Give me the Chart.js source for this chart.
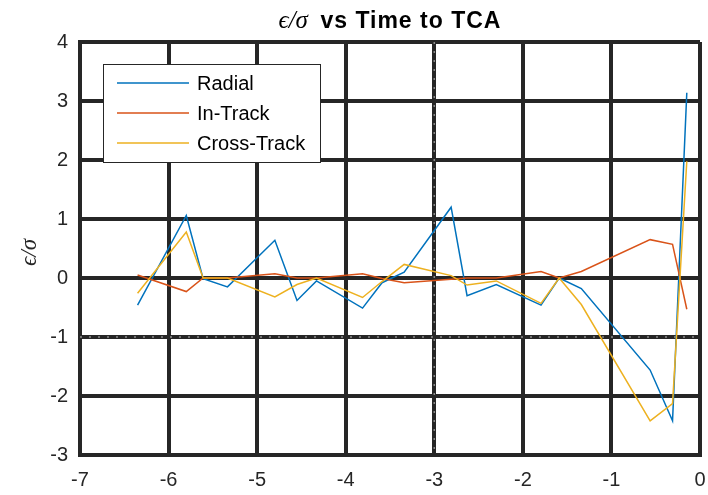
<!DOCTYPE html>
<html>
<head>
<meta charset="utf-8">
<script src="https://cdn.jsdelivr.net/npm/chart.js@4.4.1/dist/chart.umd.min.js"></script>
<style>
  html, body { margin: 0; padding: 0; background: #fff; }
  canvas { display: block; }
</style>
</head>
<body>
<canvas id="c" width="708" height="495"></canvas>
<script>
// Time to TCA (days) of each sample
const timeToTca = [-6.35, -5.80, -5.61, -5.335, -4.80, -4.55, -4.33, -3.81, -3.59, -3.34,
                   -2.81, -2.63, -2.30, -1.795, -1.59, -1.34, -0.563, -0.31, -0.149];
// Normalised error epsilon/sigma per component
const radial     = [-0.46, 1.06, -0.01, -0.15, 0.64, -0.38, -0.05, -0.51, -0.08, 0.10,
                    1.20, -0.30, -0.11, -0.46, 0.00, -0.18, -1.56, -2.42, 3.14];
const inTrack    = [0.05, -0.23, 0.00, 0.00, 0.07, 0.00, 0.00, 0.07, -0.01, -0.08,
                    -0.02, 0.00, 0.00, 0.11, 0.00, 0.11, 0.65, 0.57, -0.53];
const crossTrack = [-0.26, 0.78, 0.00, 0.00, -0.32, -0.11, 0.00, -0.33, -0.06, 0.23,
                    0.04, -0.12, -0.05, -0.43, 0.00, -0.45, -2.42, -2.13, 1.98];
const seriesNames = ['Radial', 'In-Track', 'Cross-Track'];
const xTicks = [-7, -6, -5, -4, -3, -2, -1, 0];
const yTicks = [-3, -2, -1, 0, 1, 2, 3, 4];

const colors = ['#0072BD', '#D95319', '#EDB120'];
const tickFont = { family: "'Liberation Sans', Arial, sans-serif", size: 20 };
const gridColor = '#262626';

const toPoints = ys => ys.map((y, i) => ({ x: timeToTca[i], y }));

// Title, y-axis label, boxed legend and the dotted overlay lines
const decorations = {
  id: 'decorations',
  beforeDatasetsDraw(chart) {
    const { ctx, chartArea, scales } = chart;
    ctx.save();
    ctx.strokeStyle = 'rgba(150,150,150,0.9)';
    ctx.lineWidth = 1.5;
    ctx.setLineDash([2, 7]);
    const yv = scales.y.getPixelForValue(-1);
    ctx.beginPath();
    ctx.moveTo(chartArea.left, yv);
    ctx.lineTo(chartArea.right, yv);
    ctx.stroke();
    const xv = scales.x.getPixelForValue(-3);
    ctx.beginPath();
    ctx.moveTo(xv, chartArea.top);
    ctx.lineTo(xv, chartArea.bottom);
    ctx.stroke();
    ctx.restore();
  },
  afterDraw(chart) {
    const { ctx, chartArea } = chart;
    ctx.save();
    // title: italic symbols followed by bold text
    const cx = (chartArea.left + chartArea.right) / 2;
    const symFont = "italic 25px 'Liberation Serif', 'DejaVu Serif', serif";
    const boldFont = "bold 23px 'Liberation Sans', Arial, sans-serif";
    const sym = 'ϵ/σ  ';
    const rest = 'vs Time to TCA';
    ctx.fillStyle = '#000';
    ctx.textBaseline = 'alphabetic';
    ctx.font = symFont;
    const w1 = ctx.measureText(sym).width;
    ctx.font = boldFont;
    ctx.letterSpacing = '1px';
    const w2 = ctx.measureText(rest).width;
    const x0 = cx - (w1 + w2) / 2;
    ctx.letterSpacing = '0px';
    ctx.font = symFont;
    ctx.textAlign = 'left';
    ctx.fillText(sym, x0, 28);
    ctx.font = boldFont;
    ctx.letterSpacing = '1px';
    ctx.fillText(rest, x0 + w1, 28);
    ctx.letterSpacing = '0px';

    // y-axis label
    ctx.save();
    ctx.translate(36, (chartArea.top + chartArea.bottom) / 2 + 4);
    ctx.rotate(-Math.PI / 2);
    ctx.font = "italic 23px 'Liberation Serif', 'DejaVu Serif', serif";
    ctx.fillStyle = '#262626';
    ctx.textAlign = 'center';
    ctx.textBaseline = 'alphabetic';
    ctx.fillText('ϵ/σ', 0, 0);
    ctx.restore();

    // legend box
    const bx = chartArea.left + 23, by = chartArea.top + 22, bw = 217, bh = 98;
    ctx.fillStyle = '#fff';
    ctx.fillRect(bx, by, bw, bh);
    ctx.strokeStyle = '#262626';
    ctx.lineWidth = 1;
    ctx.strokeRect(bx + 0.5, by + 0.5, bw, bh);
    ctx.font = "20px 'Liberation Sans', Arial, sans-serif";
    ctx.textBaseline = 'middle';
    ctx.textAlign = 'left';
    chart.data.datasets.forEach((ds, i) => {
      const ry = by + 19 + i * 30;
      ctx.strokeStyle = ds.borderColor;
      ctx.lineWidth = 1.5;
      ctx.beginPath();
      ctx.moveTo(bx + 14, ry);
      ctx.lineTo(bx + 86, ry);
      ctx.stroke();
      ctx.fillStyle = '#000';
      ctx.fillText(ds.label, bx + 94, ry + 1);
    });
    ctx.restore();
  }
};

new Chart(document.getElementById('c'), {
  type: 'line',
  data: {
    datasets: [radial, inTrack, crossTrack].map((ys, i) => ({
      label: seriesNames[i],
      data: toPoints(ys),
      borderColor: colors[i],
      backgroundColor: colors[i],
      borderWidth: 1.5,
      pointRadius: 0,
      tension: 0,
      fill: false,
      order: 3 - i
    }))
  },
  options: {
    responsive: false,
    animation: false,
    layout: { padding: { top: 42, right: 8, left: 0, bottom: 0 } },
    plugins: { legend: { display: false }, title: { display: false }, tooltip: { enabled: false } },
    scales: {
      x: {
        type: 'linear',
        min: -7, max: 0,
        afterBuildTicks: s => { s.ticks = xTicks.map(v => ({ value: v })); },
        afterFit: s => { s.height = 40; s.paddingLeft = 0; s.paddingRight = 0; },
        grid: { color: gridColor, lineWidth: 4, drawTicks: false },
        border: { color: gridColor, width: 4 },
        ticks: { font: tickFont, color: gridColor, padding: 13, maxRotation: 0 }
      },
      y: {
        type: 'linear',
        min: -3, max: 4,
        afterBuildTicks: s => { s.ticks = yTicks.map(v => ({ value: v })); },
        afterFit: s => { s.width = 80; s.paddingTop = 0; s.paddingBottom = 0; },
        grid: { color: gridColor, lineWidth: 4, drawTicks: false },
        border: { color: gridColor, width: 4 },
        ticks: { font: tickFont, color: gridColor, padding: 12 }
      }
    }
  },
  plugins: [decorations]
});
</script>
</body>
</html>
